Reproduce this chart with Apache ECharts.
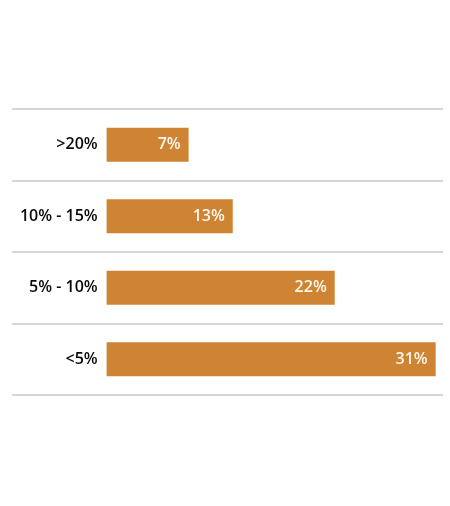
<!DOCTYPE html>
<html>
<head>
<meta charset="utf-8">
<script src="https://cdn.jsdelivr.net/npm/echarts@6/dist/echarts.min.js"></script>
<style>
  html, body { margin: 0; padding: 0; background: #ffffff; }
  #chart { width: 450px; height: 506px; }
</style>
</head>
<body>
<div id="chart"></div>
<script>
// categories, top to bottom
const categories = [">20%", "10% - 15%", "5% - 10%", "<5%"];
// bar lengths
const values = [7.8, 12.0, 21.7, 31.3];
// printed labels
const valueLabels = ["7%", "13%", "22%", "31%"];

const chart = echarts.init(document.getElementById("chart"));

chart.setOption({
  animation: false,
  grid: {
    left: 12,
    right: 7,
    top: 109,
    bottom: 111,
    containLabel: false,
    outerBoundsMode: "none",
  },
  xAxis: {
    type: "value",
    min: -9,
    max: 32,
    show: false,
  },
  yAxis: {
    type: "category",
    data: categories,
    inverse: true,
    offset: -94.6, // labels sit next to the bar base
    axisLine: { show: false },
    axisTick: { show: false },
    axisLabel: {
      margin: 9,
      color: "#0a0a0a",
      fontFamily: "Open Sans",
      fontWeight: 600,
      fontSize: 16,
    },
    splitLine: {
      show: true,
      lineStyle: { color: "#c8c8c8", width: 1.5 },
    },
  },
  series: [
    {
      type: "bar",
      data: values,
      barWidth: 34,
      itemStyle: { color: "#cf8433" },
      label: {
        show: true,
        position: "insideRight",
        distance: 8,
        color: "#fff8ee",
        fontFamily: "Open Sans",
        fontWeight: 600,
        fontSize: 16,
        formatter: (p) => valueLabels[p.dataIndex],
      },
    },
  ],
});
</script>
</body>
</html>
